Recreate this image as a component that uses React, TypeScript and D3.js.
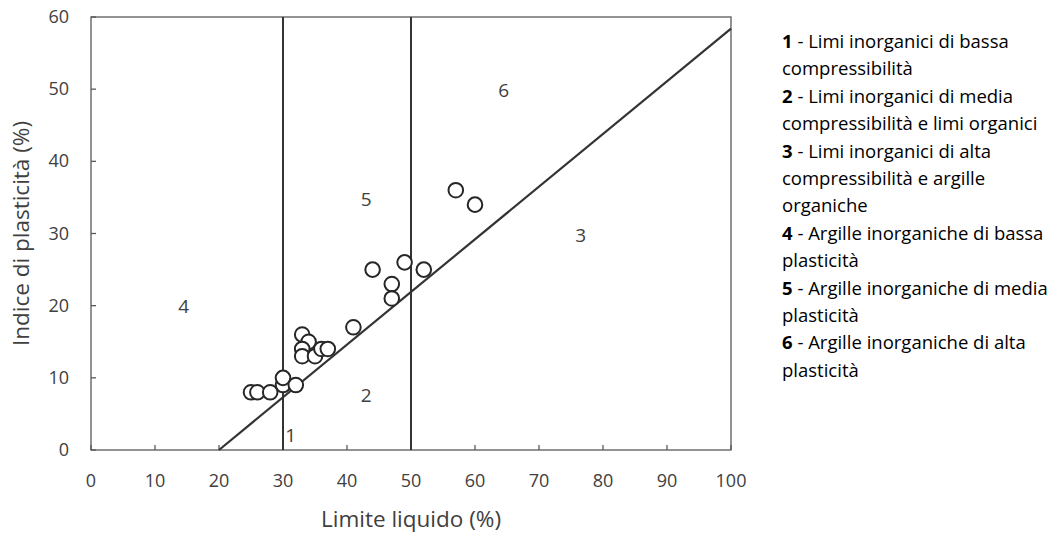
import React from "react";
import * as d3 from "d3";

// Casagrande plasticity chart: liquid limit vs plasticity index
const liquidLimit = [25, 26, 28, 30, 30, 32, 33, 34, 33, 33, 35, 36, 37, 41, 44, 47, 47, 49, 52, 57, 60];
const plasticityIndex = [8, 8, 8, 9, 10, 9, 16, 15, 14, 13, 13, 14, 14, 17, 25, 23, 21, 26, 25, 36, 34];

const xTicks = [0, 10, 20, 30, 40, 50, 60, 70, 80, 90, 100];
const yTicks = [0, 10, 20, 30, 40, 50, 60];

// Boundary lines: A-line PI = 0.73 (LL - 20), and LL = 30 / LL = 50 verticals
const aLineLL = [20, 100];
const verticalLL = [30, 50];

// Zone numbers placed inside the chart (LL, PI at the text baseline)
const zoneLabels = ["1", "2", "3", "4", "5", "6"];
const zoneLL = [31.2, 43, 76.5, 14.5, 43, 64.5];
const zonePI = [1.1, 6.6, 28.8, 19, 33.8, 48.9];

const legendNumbers = ["1", "2", "3", "4", "5", "6"];
const legendLines = [
  ["Limi inorganici di bassa", "compressibilità"],
  ["Limi inorganici di media", "compressibilità e limi organici"],
  ["Limi inorganici di alta", "compressibilità e argille", "organiche"],
  ["Argille inorganiche di bassa", "plasticità"],
  ["Argille inorganiche di media", "plasticità"],
  ["Argille inorganiche di alta", "plasticità"],
];

const FONT = "'Open Sans', Lato, sans-serif";

export default function App() {
  const width = 1051;
  const height = 538;
  const left = 91;
  const right = 731;
  const top = 17;
  const bottom = 450;

  const x = d3.scaleLinear().domain([0, 100]).range([left, right]);
  const y = d3.scaleLinear().domain([0, 60]).range([bottom, top]);

  const aLine = d3
    .line<number>()
    .x((d) => x(d))
    .y((d) => y(0.73 * (d - 20)));

  let legendRow = 0;
  const lineH = 27.4;
  const legendTop = 48;

  return (
    <svg
      width={width}
      height={height}
      style={{ position: "absolute", left: 0, top: 0, background: "#fff" }}
      fontFamily={FONT}
    >
      {/* plot frame */}
      <rect x={left} y={top} width={right - left} height={bottom - top} fill="none" stroke="#595959" strokeWidth={1.3} />

      {/* ticks pointing inward */}
      {xTicks.map((t) => (
        <line key={"xt" + t} x1={x(t)} x2={x(t)} y1={bottom} y2={bottom - 5} stroke="#595959" strokeWidth={1.3} />
      ))}
      {yTicks.map((t) => (
        <line key={"yt" + t} x1={left} x2={left + 5} y1={y(t)} y2={y(t)} stroke="#595959" strokeWidth={1.3} />
      ))}

      {/* tick labels */}
      {xTicks.map((t) => (
        <text key={"xl" + t} x={x(t)} y={bottom + 37} textAnchor="middle" fontSize={18} fill="#404040">
          {t}
        </text>
      ))}
      {yTicks.map((t) => (
        <text key={"yl" + t} x={left - 22} y={y(t) + 6} textAnchor="end" fontSize={18} fill="#404040">
          {t}
        </text>
      ))}

      {/* axis titles */}
      <text x={411} y={527} textAnchor="middle" fontSize={22.5} fill="#404040">
        Limite liquido (%)
      </text>
      <text
        transform={`translate(29, ${(top + bottom) / 2}) rotate(-90)`}
        textAnchor="middle"
        fontSize={22.5}
        fill="#404040"
      >
        Indice di plasticità (%)
      </text>

      {/* classification boundaries */}
      {verticalLL.map((v) => (
        <line key={"v" + v} x1={x(v)} x2={x(v)} y1={y(0)} y2={y(60)} stroke="#333" strokeWidth={2} />
      ))}
      <path d={aLine(aLineLL) || ""} fill="none" stroke="#333" strokeWidth={2.2} />

      {/* zone numbers */}
      {zoneLabels.map((z, i) => (
        <text key={"z" + z} x={x(zoneLL[i])} y={y(zonePI[i])} textAnchor="middle" fontSize={19} fill="#404040">
          {z}
        </text>
      ))}

      {/* samples */}
      {liquidLimit.map((ll, i) => (
        <circle key={"p" + i} cx={x(ll)} cy={y(plasticityIndex[i])} r={7.3} fill="#fff" stroke="#262626" strokeWidth={2} />
      ))}

      {/* legend */}
      {legendLines.map((lines, i) => {
        const rows = lines.map((ln, j) => {
          const yy = legendTop + (legendRow + j) * lineH;
          return (
            <text key={"lg" + i + "-" + j} x={782} y={yy} fontSize={18.5} fill="#000">
              {j === 0 ? (
                <>
                  <tspan fontWeight="bold">{legendNumbers[i]}</tspan>
                  {" - " + ln}
                </>
              ) : (
                ln
              )}
            </text>
          );
        });
        legendRow += lines.length;
        return <g key={"lgg" + i}>{rows}</g>;
      })}
    </svg>
  );
}
